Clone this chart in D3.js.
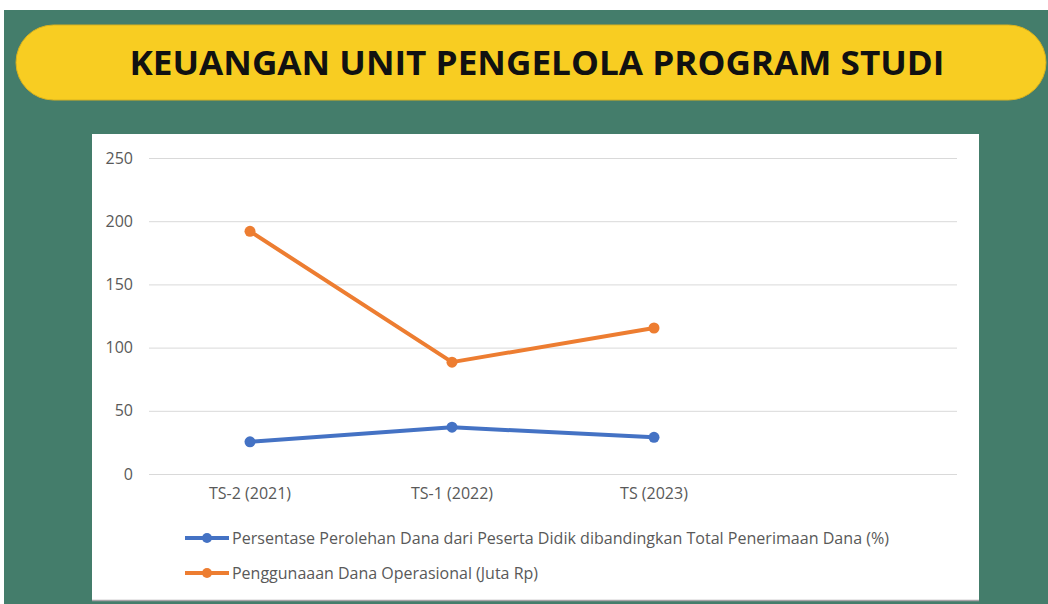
<!DOCTYPE html>
<html>
<head>
<meta charset="utf-8">
<script src="https://cdn.jsdelivr.net/npm/d3@7"></script>
<style>
	body { margin: 0; background: #fff; }
	svg { display: block; font-family: "Open Sans", "Liberation Sans", sans-serif; }
</style>
</head>
<body>
<svg id="chart" width="1048" height="604"></svg>
<script>
// data
let categories = ["TS-2 (2021)", "TS-1 (2022)", "TS (2023)", ""];
let persentase = [25.5, 37, 29];
let penggunaan = [192, 88.5, 115.5];
let yTicks = [0, 50, 100, 150, 200, 250];
let seriesNames = [
	"Persentase Perolehan Dana dari Peserta Didik dibandingkan Total Penerimaan Dana (%)",
	"Penggunaaan Dana Operasional (Juta Rp)"
];
let seriesColors = ["#4472c4", "#ed7d31"];

let svg = d3.select("svg#chart");

// slide background
svg.append("rect").attr("x", 4).attr("y", 10).attr("width", 1044).attr("height", 594).attr("fill", "#447d6b");

// title pill
svg.append("rect")
	.attr("x", 16).attr("y", 25).attr("width", 1030).attr("height", 75)
	.attr("rx", 37.5)
	.attr("fill", "#f8cd22")
	.attr("stroke", "#d9b21e").attr("stroke-width", 1);

svg.append("text")
	.attr("x", 537).attr("y", 75)
	.attr("text-anchor", "middle")
	.attr("font-size", 34).attr("font-weight", 700)
	.attr("fill", "#111")
	.attr("textLength", 815).attr("lengthAdjust", "spacingAndGlyphs")
	.text("KEUANGAN UNIT PENGELOLA PROGRAM STUDI");

// chart panel
svg.append("rect").attr("x", 92).attr("y", 134).attr("width", 887).attr("height", 466).attr("fill", "#fff");
svg.append("line").attr("x1", 92).attr("x2", 979).attr("y1", 600.5).attr("y2", 600.5)
	.attr("stroke", "#a9a3a8").attr("stroke-width", 1.5);

let x = d3.scaleBand().domain(categories).range([149, 957]);
let y = d3.scaleLinear().domain([0, 250]).range([474, 158]);

// gridlines
svg.append("g").selectAll("line")
	.data(yTicks)
	.enter().append("line")
	.attr("x1", 149).attr("x2", 957)
	.attr("y1", function(d) { return y(d) + 0.5; })
	.attr("y2", function(d) { return y(d) + 0.5; })
	.attr("stroke", "#d9d9d9").attr("stroke-width", 1);

// y axis labels
let yAxis = svg.append("g")
	.attr("transform", "translate(139,0)")
	.call(d3.axisLeft(y).tickValues(yTicks).tickSize(0).tickPadding(6))
	.attr("font-family", null).attr("font-size", null);
yAxis.select(".domain").remove();
yAxis.selectAll("text").attr("font-size", 16).attr("fill", "#595959");

// x axis labels
let xAxis = svg.append("g")
	.attr("transform", "translate(0,474)")
	.call(d3.axisBottom(x).tickSize(0).tickPadding(14))
	.attr("font-family", null).attr("font-size", null);
xAxis.select(".domain").remove();
xAxis.selectAll("text").attr("font-size", 16).attr("fill", "#595959");

let line = d3.line()
	.x(function(d, i) { return x(categories[i]) + x.bandwidth() / 2; })
	.y(function(d) { return y(d); });

[persentase, penggunaan].forEach(function(values, s) {
	svg.append("path")
		.datum(values)
		.attr("d", line)
		.attr("fill", "none")
		.attr("stroke", seriesColors[s])
		.attr("stroke-width", 4)
		.attr("stroke-linejoin", "round");

	svg.append("g").selectAll("circle")
		.data(values)
		.enter().append("circle")
		.attr("cx", function(d, i) { return x(categories[i]) + x.bandwidth() / 2; })
		.attr("cy", function(d) { return y(d); })
		.attr("r", 5.5)
		.attr("fill", seriesColors[s]);
});

// legend
let legend = svg.append("g").selectAll("g")
	.data(seriesNames)
	.enter().append("g")
	.attr("transform", function(d, i) { return "translate(185," + (538 + i * 35) + ")"; });

legend.append("line")
	.attr("x1", 0).attr("x2", 44)
	.attr("stroke", function(d, i) { return seriesColors[i]; })
	.attr("stroke-width", 4);
legend.append("circle")
	.attr("cx", 22).attr("r", 5)
	.attr("fill", function(d, i) { return seriesColors[i]; });
legend.append("text")
	.attr("x", 47).attr("dy", "0.35em")
	.attr("font-size", 16).attr("fill", "#595959")
	.attr("textLength", function(d, i) { return i === 0 ? 657 : 306; })
	.attr("lengthAdjust", "spacingAndGlyphs")
	.text(function(d) { return d; });
</script>
</body>
</html>
